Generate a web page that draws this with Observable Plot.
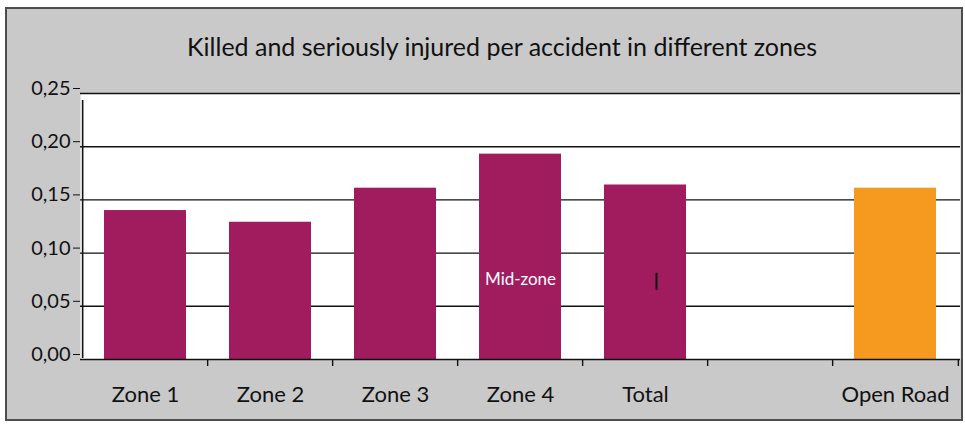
<!DOCTYPE html>
<html>
<head>
<meta charset="utf-8">
<script src="https://cdn.jsdelivr.net/npm/d3@7"></script>
<script src="https://cdn.jsdelivr.net/npm/@observablehq/plot@0.6"></script>
<style>
  html, body { margin: 0; padding: 0; background: #ffffff; }
  #wrap { position: relative; width: 965px; height: 430px; overflow: hidden; font-family: Lato, "Open Sans", sans-serif; }
  #frame { position: absolute; left: 5px; top: 7px; width: 954px; height: 410px; border: 2px solid #4d4d4d; background: #c9c9c9; }
  #title { position: absolute; top: 31px; left: 502px; transform: translateX(-50%); white-space: nowrap; font-size: 25px; line-height: 30px; color: #111; }
  #chart { position: absolute; left: 0; top: 0; }
</style>
</head>
<body>
<div id="wrap">
  <div id="frame"></div>
  <div id="title">Killed and seriously injured per accident in different zones</div>
  <div id="chart"></div>
</div>
<script>
const categories = ["Zone 1", "Zone 2", "Zone 3", "Zone 4", "Total", " ", "Open Road"];
const values = [0.140, 0.129, 0.161, 0.193, 0.164, null, 0.161];
const barColors = ["#a11c5f", "#a11c5f", "#a11c5f", "#a11c5f", "#a11c5f", "#a11c5f", "#f59a1f"];
const yTicks = [0, 0.05, 0.10, 0.15, 0.20, 0.25];
const annotations = [{cat: "Zone 4", y: 0.075, label: "Mid-zone"}];
const marker = [{cat: "Total", y1: 0.065, y2: 0.081}];

const data = categories.map((c, i) => ({cat: c, value: values[i], color: barColors[i]}))
  .filter(d => d.value != null);

const W = 965, H = 430, mL = 80, mR = 5, mT = 93, mB = 71;
const step = (W - mL - mR) / categories.length;

const plot = Plot.plot({
  width: W,
  height: H,
  marginLeft: mL,
  marginRight: mR,
  marginTop: mT,
  marginBottom: mB,
  style: {background: "transparent", fontFamily: "Lato, 'Open Sans', sans-serif", color: "#111"},
  x: {type: "band", domain: categories, paddingInner: 0.34, paddingOuter: 0.17, label: null},
  y: {domain: [0, 0.25], label: null},
  marks: [
    Plot.frame({fill: "white", stroke: null}),
    Plot.ruleY(yTicks.slice(1), {stroke: "#111", strokeWidth: 1.4}),
    Plot.barY(data, {x: "cat", y: "value", fill: "color"}),
    Plot.ruleY([0], {stroke: "#111", strokeWidth: 1.6}),
    Plot.ruleX([categories[0]], {x: d => d, y1: 0, y2: 0.25, dx: -step / 2, insetTop: -1, insetBottom: -7, stroke: "#111", strokeWidth: 1.6}),
    Plot.ruleX(categories.slice(1), {x: d => d, y1: 0, y2: 0, dx: -step / 2, insetBottom: -7, stroke: "#111", strokeWidth: 1.4}),
    Plot.ruleX([categories[categories.length - 1]], {x: d => d, y1: 0, y2: 0, dx: step / 2, insetBottom: -7, stroke: "#111", strokeWidth: 1.4}),
    Plot.ruleX(marker, {x: "cat", y1: "y1", y2: "y2", dx: 11, stroke: "#111", strokeWidth: 2}),
    Plot.text(annotations, {x: "cat", y: "y", text: "label", fill: "white", fontSize: 17}),
    Plot.axisY({ticks: yTicks, tickFormat: d => d.toFixed(2).replace(".", ","), tickSize: 7, tickPadding: 3, fontSize: 20, dy: -5, label: null}),
    Plot.axisX({tickSize: 0, tickPadding: 27, fontSize: 22, label: null})
  ]
});
document.getElementById("chart").appendChild(plot);
</script>
</body>
</html>
